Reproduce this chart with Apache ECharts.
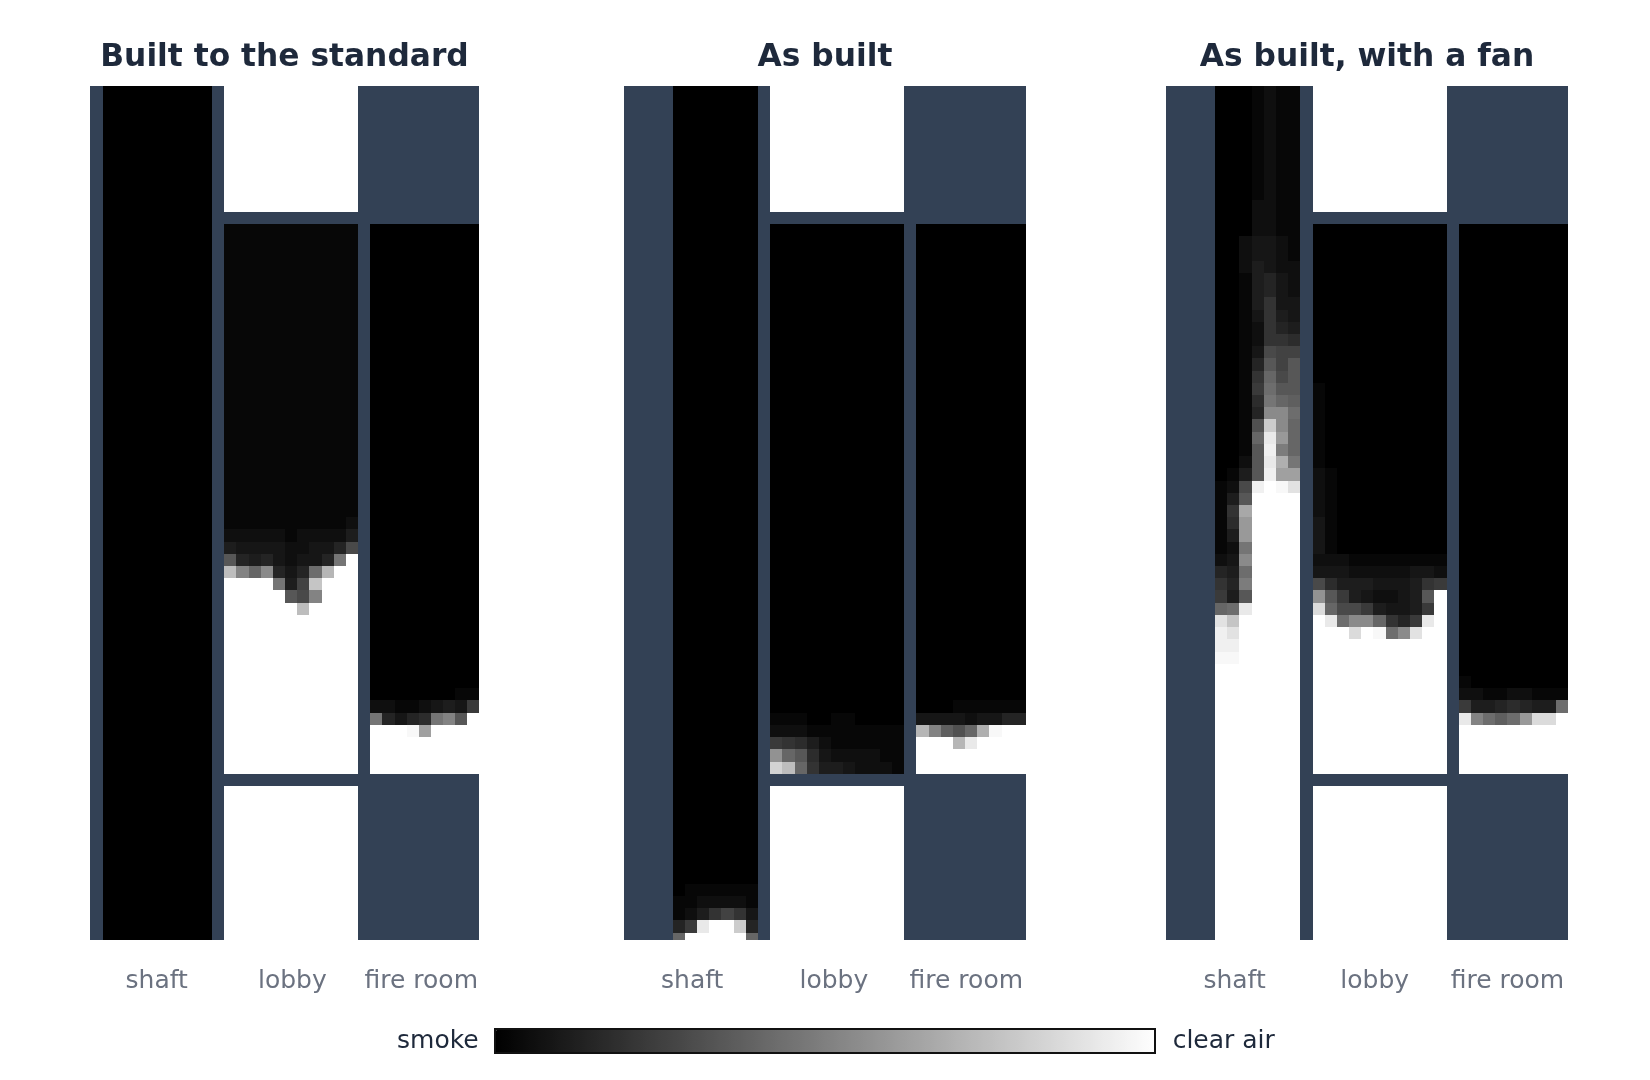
<!DOCTYPE html>
<html lang="en">
<head>
    <meta charset="UTF-8">
    <title>Smoke spread</title>
    <script src="https://cdn.jsdelivr.net/npm/echarts@6/dist/echarts.min.js"></script>
    <style>
        *{
            padding:0;
            margin:0;
            box-sizing: border-box;
        }
        #main{
            width: 1650px;
            height: 1080px;
            background: #fff;
        }
    </style>
</head>
<body>
    <div id="main"></div>
    <script>
        // every character is one cell: base 36, 0 = black smoke, z = clear air
        var titles=["Built to the standard","As built","As built, with a fan"]
        var roomNames=["shaft","lobby","fire room"]

        // the part of the lobby above and below its two floors, same in all panels
        var lobbyAbove=[
            "zzzzzzzzzzz","zzzzzzzzzzz","zzzzzzzzzzz","zzzzzzzzzzz","zzzzzzzzzzz","zzzzzzzzzzz",
            "zzzzzzzzzzz","zzzzzzzzzzz","zzzzzzzzzzz","zzzzzzzzzzz","zzzzzzzzzzz"
        ]
        var lobbyBelow=[
            "zzzzzzzzzzz","zzzzzzzzzzz","zzzzzzzzzzz","zzzzzzzzzzz","zzzzzzzzzzz","zzzzzzzzzzz","zzzzzzzzzzz",
            "zzzzzzzzzzz","zzzzzzzzzzz","zzzzzzzzzzz","zzzzzzzzzzz","zzzzzzzzzzz","zzzzzzzzzzz"
        ]

        // Built to the standard
        var shaft1=[
            "000000000","000000000","000000000","000000000","000000000","000000000","000000000","000000000",
            "000000000","000000000","000000000","000000000","000000000","000000000","000000000","000000000",
            "000000000","000000000","000000000","000000000","000000000","000000000","000000000","000000000",
            "000000000","000000000","000000000","000000000","000000000","000000000","000000000","000000000",
            "000000000","000000000","000000000","000000000","000000000","000000000","000000000","000000000",
            "000000000","000000000","000000000","000000000","000000000","000000000","000000000","000000000",
            "000000000","000000000","000000000","000000000","000000000","000000000","000000000","000000000",
            "000000000","000000000","000000000","000000000","000000000","000000000","000000000","000000000",
            "000000000","000000000","000000000","000000000","000000000","000000000","000000000"
        ]
        var lobby1=[
            "11111111111","11111111111","11111111111","11111111111","11111111111","11111111111","11111111111",
            "11111111111","11111111111","11111111111","11111111111","11111111111","11111111111",
            "11111111111","11111111111","11111111111","11111111111","11111111111","11111111111",
            "11111111111","11111111111","11111111111","11111111111","11111111111",
            "11111111112",
            "22222122224",
            "4333322335a",
            "c54532335gz",
            "qiej535fpzz",
            "zzzzg49rzzz",
            "zzzzzcaizzz",
            "zzzzzzqzzzz",
            "zzzzzzzzzzz","zzzzzzzzzzz","zzzzzzzzzzz","zzzzzzzzzzz","zzzzzzzzzzz","zzzzzzzzzzz","zzzzzzzzzzz",
            "zzzzzzzzzzz","zzzzzzzzzzz","zzzzzzzzzzz","zzzzzzzzzzz","zzzzzzzzzzz","zzzzzzzzzzz"
        ]
        var fire1=[
            "000000000","000000000","000000000","000000000","000000000","000000000","000000000","000000000",
            "000000000","000000000","000000000","000000000","000000000","000000000","000000000","000000000",
            "000000000","000000000","000000000","000000000","000000000","000000000","000000000","000000000",
            "000000000","000000000","000000000","000000000","000000000","000000000","000000000","000000000",
            "000000000","000000000","000000000","000000000","000000000","000000000",
            "000000011",
            "221123438",
            "g5356gicz",
            "zzzymzzzz",
            "zzzzzzzzz","zzzzzzzzz","zzzzzzzzz"
        ]

        // As built
        var shaft2=[
            "0000000","0000000","0000000","0000000","0000000","0000000","0000000","0000000","0000000","0000000","0000000",
            "0000000","0000000","0000000","0000000","0000000","0000000","0000000","0000000","0000000","0000000","0000000",
            "0000000","0000000","0000000","0000000","0000000","0000000","0000000","0000000","0000000","0000000","0000000",
            "0000000","0000000","0000000","0000000","0000000","0000000","0000000","0000000","0000000","0000000","0000000",
            "0000000","0000000","0000000","0000000","0000000","0000000","0000000","0000000","0000000","0000000","0000000",
            "0000000","0000000","0000000","0000000","0000000","0000000","0000000","0000000","0000000","0000000","0000000",
            "0111111",
            "1122221",
            "1247973",
            "58wzzs5",
            "ezzzzze"
        ]
        var lobby2=[
            "00000000000","00000000000","00000000000","00000000000","00000000000","00000000000","00000000000","00000000000",
            "00000000000","00000000000","00000000000","00000000000","00000000000","00000000000","00000000000","00000000000",
            "00000000000","00000000000","00000000000","00000000000","00000000000","00000000000","00000000000","00000000000",
            "00000000000","00000000000","00000000000","00000000000","00000000000","00000000000","00000000000","00000000000",
            "00000000000","00000000000","00000000000","00000000000","00000000000","00000000000","00000000000","00000000000",
            "11100110000",
            "22211111111",
            "87642111111",
            "kec63222211",
            "tqe74432221"
        ]
        var fire2=[
            "000000000","000000000","000000000","000000000","000000000","000000000","000000000","000000000",
            "000000000","000000000","000000000","000000000","000000000","000000000","000000000","000000000",
            "000000000","000000000","000000000","000000000","000000000","000000000","000000000","000000000",
            "000000000","000000000","000000000","000000000","000000000","000000000","000000000","000000000",
            "000000000","000000000","000000000","000000000","000000000","000000000","000000000",
            "000111111",
            "333323355",
            "pidbeoyzz",
            "zzzpwzzzz",
            "zzzzzzzzz","zzzzzzzzz"
        ]

        // As built, with a fan
        var shaft3=[
            "0001211","0001211","0001211","0001211","0001211","0001211","0001211","0001211","0001211","0001211",
            "0002211","0002211","0002211",
            "0023321","0023321","0024322","0014532","0014532","0014733","0013743",
            "0012754","0012776","0013a99","0015c9c","0017eac","0018fcc","0016ged","0015jjf",
            "001bsje","001ewle","001cxhe","002cwog","014cxmm",
            "12axzyv","14czzzz","17nzzzz","16lzzzz","14lzzzz","12gzzzz","23jzzzz","54fzzzz","75hzzzz","84czzzz",
            "efwzzzz","vrzzzzz","xvzzzzz","xxzzzzz","yyzzzzz",
            "zzzzzzz","zzzzzzz","zzzzzzz","zzzzzzz","zzzzzzz","zzzzzzz","zzzzzzz","zzzzzzz","zzzzzzz","zzzzzzz","zzzzzzz",
            "zzzzzzz","zzzzzzz","zzzzzzz","zzzzzzz","zzzzzzz","zzzzzzz","zzzzzzz","zzzzzzz","zzzzzzz","zzzzzzz","zzzzzzz","zzzzzzz"
        ]
        var lobby3=[
            "00000000000","00000000000","00000000000","00000000000","00000000000","00000000000","00000000000",
            "00000000000","00000000000","00000000000","00000000000","00000000000","00000000000",
            "10000000000","10000000000","10000000000","10000000000","10000000000","10000000000","10000000000",
            "21000000000","21000000000","21000000000","21000000000",
            "31000000000","31000000000","31000000000",
            "22211111111",
            "33322222332",
            "a6444333478",
            "kc8432234cz",
            "ueaa843348z",
            "zwfjje758wz",
            "zzzuzyfjvzz",
            "zzzzzzzzzzz","zzzzzzzzzzz","zzzzzzzzzzz","zzzzzzzzzzz","zzzzzzzzzzz","zzzzzzzzzzz",
            "zzzzzzzzzzz","zzzzzzzzzzz","zzzzzzzzzzz","zzzzzzzzzzz","zzzzzzzzzzz"
        ]
        var fire3=[
            "000000000","000000000","000000000","000000000","000000000","000000000","000000000","000000000",
            "000000000","000000000","000000000","000000000","000000000","000000000","000000000","000000000",
            "000000000","000000000","000000000","000000000","000000000","000000000","000000000","000000000",
            "000000000","000000000","000000000","000000000","000000000","000000000","000000000","000000000",
            "000000000","000000000","000000000","000000000","000000000",
            "100000000",
            "221122111",
            "84456544f",
            "wifdfluuz",
            "zzzzzzzzz","zzzzzzzzz","zzzzzzzzz","zzzzzzzzz"
        ]

        var topY=86, plotH=854
        var wallColor="#334155"
        // shift: the axis starts a little before column 0, so the walls land on the same pixels
        var panels=[
            {left:90,width:389,cols:32,shift:0.05,shaft:shaft1,lobby:lobby1,fire:fire1,shaftCol:1,lobbyCol:11,fireCol:23,labelAt:[5.44,16.6,27.2]},
            {left:624,width:402,cols:33,shift:0,shaft:shaft2,lobby:lobby2,fire:fire2,shaftCol:4,lobbyCol:12,fireCol:24,labelAt:[5.6,17.23,28.1]},
            {left:1166,width:402,cols:33,shift:0.03,shaft:shaft3,lobby:lobby3,fire:fire3,shaftCol:4,lobbyCol:12,fireCol:24,labelAt:[5.6,17.1,28]}
        ]

        function addRoom(list,rows,col,firstRow){
            rows.forEach(function(line,r){
                for(var i=0;i<line.length;i++){
                    list.push([col+i,firstRow+r,parseInt(line[i],36)])
                }
            })
        }

        // cell r covers r..r+1, rounded so that the wall colour does not show through the seams
        function renderCell(params,api){
            var a=api.coord([api.value(0),api.value(1)])
            var b=api.coord([api.value(0)+1,api.value(1)+1])
            var x=Math.round(a[0]), y=Math.round(a[1])
            return {
                type:"rect",
                shape:{x:x,y:y,width:Math.round(b[0])-x,height:Math.round(b[1])-y},
                style:{fill:api.visual("color")}
            }
        }

        var grids=[],xAxes=[],yAxes=[],series=[],titleList=[]
        panels.forEach(function(p,k){
            var cells=[]
            addRoom(cells,p.shaft,p.shaftCol,0)
            addRoom(cells,lobbyAbove,p.lobbyCol,0)
            addRoom(cells,p.lobby,p.lobbyCol,12)
            addRoom(cells,lobbyBelow,p.lobbyCol,58)
            addRoom(cells,p.fire,p.fireCol,12)
            grids.push({
                left:p.left,top:topY,width:p.width,height:plotH,
                show:true,backgroundColor:wallColor,borderWidth:0
            })
            xAxes.push({
                gridIndex:k,type:"value",min:-p.shift,max:p.cols-p.shift,
                axisLine:{show:false},axisTick:{show:false},splitLine:{show:false},
                axisLabel:{
                    customValues:p.labelAt,
                    formatter:function(v){return roomNames[p.labelAt.indexOf(v)]},
                    color:"#6b7280",fontFamily:"DejaVu Sans",fontSize:25,margin:29
                }
            })
            yAxes.push({gridIndex:k,type:"value",inverse:true,min:0.703,max:70.61,show:false})
            series.push({
                type:"custom",xAxisIndex:k,yAxisIndex:k,
                renderItem:renderCell,clip:true,silent:true,
                encode:{x:0,y:1},data:cells
            })
            titleList.push({
                text:titles[k],left:p.left+p.width/2,top:42,padding:0,
                textAlign:"center",
                textStyle:{color:"#1e293b",fontFamily:"DejaVu Sans",fontWeight:"bold",fontSize:31.3}
            })
        })

        var myCharts=echarts.init(document.getElementById("main"))
        myCharts.setOption({
            animation:false,
            title:titleList,
            grid:grids,
            xAxis:xAxes,
            yAxis:yAxes,
            visualMap:{
                type:"continuous",min:0,max:35,dimension:2,
                orient:"horizontal",calculable:false,realtime:false,
                left:397,top:1029,
                itemWidth:24,itemHeight:660,
                text:["clear air","smoke"],textGap:17,
                textStyle:{color:"#1e293b",fontFamily:"DejaVu Sans",fontSize:25},
                padding:0,
                inRange:{color:["#000000","#ffffff"]}
            },
            graphic:[{
                type:"rect",z:100,silent:true,
                shape:{x:495,y:1029,width:660,height:24},
                style:{fill:"none",stroke:"#111111",lineWidth:2}
            }],
            series:series
        })
    </script>
</body>
</html>
